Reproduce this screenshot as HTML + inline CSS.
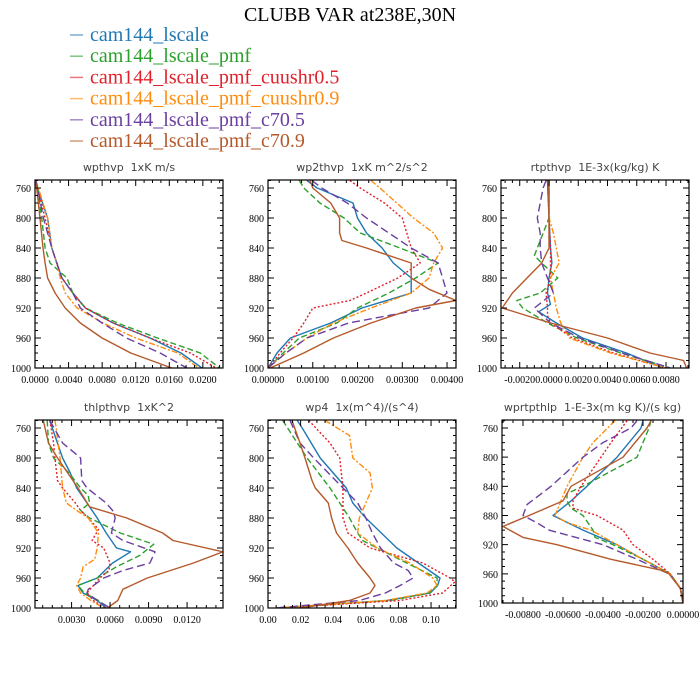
<!DOCTYPE html>
<html><head><meta charset="utf-8">
<style>
html,body{margin:0;padding:0;background:#fff;}
svg{display:block;}
.pt{font-family:"DejaVu Sans",sans-serif;font-size:11px;fill:#444;}
.tl{font-family:"Liberation Serif",serif;font-size:10px;fill:#000;}
.lg{font-family:"Liberation Serif",serif;font-size:20px;}
</style></head>
<body>
<svg id="chart" width="700" height="700" viewBox="0 0 700 700" xmlns="http://www.w3.org/2000/svg">
<text x="350" y="21" text-anchor="middle" font-family="Liberation Serif, serif" font-size="20">CLUBB VAR at238E,30N</text>
<g id="legend"></g>
<g id="panels"></g>
</svg>
<script>
// Series names and colours
const seriesNames = ["cam144_lscale","cam144_lscale_pmf","cam144_lscale_pmf_cuushr0.5","cam144_lscale_pmf_cuushr0.9","cam144_lscale_pmf_c70.5","cam144_lscale_pmf_c70.9"];
// Panel 1: wpthvp  ([pressure, value])
const p1_s0 = [[750,0.0001],[760,0.0003],[800,0.0015],[840,0.0020],[860,0.0026],[880,0.0032],[900,0.0045],[920,0.0060],[940,0.0093],[960,0.0137],[980,0.0174],[1000,0.0199]];
const p1_s1 = [[750,0.0001],[760,0.0003],[800,0.0008],[840,0.0012],[860,0.0018],[880,0.0038],[900,0.0045],[920,0.0060],[940,0.0098],[960,0.0146],[980,0.0197],[1000,0.0220]];
const p1_s2 = [[750,0.0001],[760,0.0003],[800,0.0012],[840,0.0020],[860,0.0026],[880,0.0032],[900,0.0045],[920,0.0060],[940,0.0093],[960,0.0137],[980,0.0185],[1000,0.0216]];
const p1_s3 = [[750,0.0001],[760,0.0004],[800,0.0015],[840,0.0020],[860,0.0026],[880,0.0030],[900,0.0036],[920,0.0050],[940,0.0081],[960,0.0120],[980,0.0170],[1000,0.0195]];
const p1_s4 = [[750,0.0001],[760,0.0003],[800,0.0010],[840,0.0020],[860,0.0026],[880,0.0032],[900,0.0045],[920,0.0054],[940,0.0080],[960,0.0109],[980,0.0149],[1000,0.0181]];
const p1_s5 = [[750,0.0000],[760,0.0002],[800,0.0006],[840,0.00095],[860,0.0012],[880,0.0015],[900,0.0024],[920,0.0036],[940,0.0054],[960,0.0080],[980,0.0114],[1000,0.0163]];
// Panel 2: wp2thvp
const p2_s0 = [[750,0.00087],[760,0.0011],[780,0.0019],[800,0.0020],[820,0.0022],[840,0.00255],[860,0.0028],[880,0.0032],[900,0.0032],[920,0.0021],[940,0.0014],[960,0.0005],[980,0.0002],[1000,0]];
const p2_s1 = [[750,0.0007],[760,0.0008],[780,0.00116],[800,0.0017],[820,0.00206],[840,0.00295],[860,0.0038],[880,0.0033],[900,0.0027],[920,0.0020],[940,0.00154],[960,0.0007],[980,0.00034],[1000,0]];
const p2_s2 = [[750,0.00183],[760,0.00206],[780,0.0026],[800,0.0030],[820,0.0031],[840,0.0032],[860,0.0034],[880,0.0029],[900,0.0022],[910,0.00183],[920,0.0010],[940,0.0008],[960,0.00056],[980,0.00027],[1000,0]];
const p2_s3 = [[750,0.0023],[760,0.0025],[800,0.00325],[820,0.0037],[840,0.0039],[860,0.0037],[880,0.0036],[900,0.0032],[920,0.0023],[940,0.00146],[960,0.00087],[980,0.0004],[1000,0]];
const p2_s4 = [[750,0.00098],[760,0.0012],[780,0.00177],[800,0.0022],[840,0.0032],[860,0.0038],[880,0.0039],[900,0.0040],[920,0.0036],[930,0.0027],[940,0.0018],[960,0.00087],[980,0.0004],[1000,0]];
const p2_s5 = [[750,0.00094],[760,0.0010],[780,0.0014],[800,0.0016],[820,0.0016],[830,0.00165],[840,0.0022],[860,0.0032],[880,0.0032],[895,0.0036],[910,0.0042],[920,0.0033],[940,0.0023],[960,0.00146],[980,0.0008],[1000,0.00005]];
// Panel 3: rtpthvp
const p3_s0 = [[750,-0.0001],[800,0],[840,0.0001],[860,0.0002],[880,0],[900,-0.0001],[915,0.0001],[925,-0.0007],[940,0.0005],[960,0.0023],[980,0.0053],[1000,0.0078]];
const p3_s1 = [[750,0],[800,0],[840,-0.0008],[850,-0.0010],[860,-0.0005],[880,0.0006],[900,-0.0006],[910,-0.0022],[920,-0.0018],[940,-0.0001],[960,0.0019],[980,0.0049],[1000,0.0083]];
const p3_s2 = [[750,-0.0001],[800,0],[840,0.0001],[880,0.0001],[900,-0.0002],[920,-0.0001],[930,-0.0001],[940,0.0001],[960,0.0016],[980,0.0044],[1000,0.0080]];
const p3_s3 = [[750,0],[800,0],[820,0.0003],[840,0.0005],[860,0.0007],[880,0.0001],[900,0.0003],[920,0.0005],[940,0.0008],[960,0.0014],[980,0.0042],[1000,0.0080]];
const p3_s4 = [[750,-0.0002],[760,-0.0004],[780,-0.0006],[800,-0.0008],[820,-0.0006],[840,-0.0006],[860,-0.0005],[880,-0.0001],[900,0.0003],[920,-0.0010],[940,0.0001],[960,0.0021],[980,0.0050],[1000,0.0083]];
const p3_s5 = [[750,0],[800,0],[840,0],[860,-0.0005],[880,-0.0015],[900,-0.0025],[920,-0.0032],[940,0.0001],[960,0.0040],[980,0.0069],[990,0.0092],[1000,0.0094]];
// Panel 4: thlpthvp
const p4_s0 = [[750,0.0013],[760,0.0015],[800,0.0023],[820,0.0029],[840,0.0034],[860,0.0042],[880,0.0050],[900,0.0057],[920,0.0065],[925,0.0076],[940,0.0062],[960,0.0050],[970,0.0035],[980,0.0039],[990,0.0050],[1000,0.0057]];
const p4_s1 = [[750,0.0011],[780,0.0012],[800,0.0016],[820,0.0028],[840,0.0037],[850,0.0043],[860,0.0044],[870,0.0037],[880,0.0044],[900,0.0068],[915,0.0094],[930,0.0083],[945,0.0065],[960,0.0050],[970,0.0035],[980,0.0040],[990,0.0051],[1000,0.0059]];
const p4_s2 = [[750,0.0013],[780,0.0016],[800,0.0017],[830,0.0019],[840,0.0023],[860,0.0033],[870,0.0037],[880,0.0043],[895,0.0051],[910,0.0046],[920,0.0055],[940,0.0060],[950,0.0059],[960,0.0052],[980,0.0042],[990,0.0047],[1000,0.0056]];
const p4_s3 = [[750,0.0017],[760,0.0018],[800,0.0021],[840,0.0023],[860,0.0026],[870,0.0034],[880,0.0043],[900,0.0051],[920,0.0050],[935,0.0048],[945,0.0039],[960,0.0037],[970,0.0034],[980,0.0037],[990,0.0045],[1000,0.0055]];
const p4_s4 = [[750,0.0013],[780,0.0023],[800,0.0037],[830,0.0038],[840,0.0042],[860,0.0057],[870,0.0062],[880,0.0064],[900,0.0061],[910,0.0070],[925,0.0095],[940,0.0091],[950,0.0070],[960,0.0055],[975,0.0043],[980,0.0042],[990,0.0050],[1000,0.0060]];
const p4_s5 = [[750,0.0008],[780,0.0012],[800,0.0019],[840,0.0035],[865,0.0044],[880,0.0073],[900,0.0101],[910,0.0109],[925,0.0148],[940,0.0125],[960,0.0089],[975,0.0070],[990,0.0066],[1000,0.0058]];
// Panel 5: wp4
const p5_s0 = [[750,0.018],[760,0.021],[800,0.032],[840,0.048],[860,0.052],[880,0.060],[920,0.079],[960,0.1055],[970,0.104],[980,0.0995],[990,0.073],[1000,0.005]];
const p5_s1 = [[750,0.009],[800,0.024],[840,0.038],[880,0.050],[900,0.055],[910,0.058],[920,0.067],[940,0.085],[960,0.1037],[970,0.1037],[980,0.099],[990,0.075],[1000,0.005]];
const p5_s2 = [[750,0.025],[780,0.038],[800,0.044],[840,0.046],[880,0.046],[900,0.049],[920,0.0626],[940,0.095],[960,0.1117],[965,0.1147],[980,0.107],[990,0.081],[1000,0.005]];
const p5_s3 = [[750,0.035],[770,0.050],[800,0.052],[820,0.0626],[840,0.064],[860,0.060],[880,0.056],[900,0.055],[920,0.067],[940,0.087],[960,0.101],[970,0.1037],[980,0.0975],[990,0.072],[1000,0.005]];
const p5_s4 = [[750,0.0135],[780,0.0196],[800,0.028],[840,0.046],[860,0.055],[880,0.060],[900,0.064],[920,0.069],[940,0.077],[950,0.086],[960,0.089],[970,0.081],[980,0.072],[990,0.056],[1000,0.005]];
const p5_s5 = [[750,0.0147],[780,0.0196],[800,0.0227],[830,0.027],[840,0.029],[860,0.037],[880,0.039],[900,0.042],[920,0.049],[940,0.055],[960,0.0626],[970,0.0656],[980,0.0626],[990,0.050],[1000,0.020]];
// Panel 6: wprtpthlp
const p6_s0 = [[750,-0.0020],[760,-0.0021],[800,-0.0033],[840,-0.0048],[860,-0.0056],[880,-0.0065],[900,-0.0050],[920,-0.0033],[940,-0.0020],[960,-0.00064],[980,-0.00013],[1000,0]];
const p6_s1 = [[750,-0.0016],[760,-0.0017],[800,-0.0023],[840,-0.0050],[850,-0.0058],[860,-0.0058],[870,-0.0056],[880,-0.0050],[900,-0.0045],[910,-0.0044],[920,-0.0035],[940,-0.0020],[960,-0.00064],[980,-0.00013],[1000,0]];
const p6_s2 = [[750,-0.0028],[780,-0.0036],[800,-0.0041],[840,-0.0051],[860,-0.0055],[870,-0.0055],[880,-0.0043],[900,-0.0030],[920,-0.0025],[940,-0.0015],[960,-0.00064],[980,-0.00013],[1000,0]];
const p6_s3 = [[750,-0.0034],[780,-0.0045],[800,-0.0050],[840,-0.0058],[860,-0.0061],[880,-0.0064],[890,-0.0058],[900,-0.0046],[920,-0.0033],[940,-0.0020],[960,-0.00064],[980,-0.00013],[1000,0]];
const p6_s4 = [[750,-0.0023],[760,-0.0026],[780,-0.0040],[800,-0.0050],[840,-0.0066],[865,-0.0078],[880,-0.0080],[890,-0.0073],[900,-0.0067],[920,-0.0040],[940,-0.0023],[960,-0.0007],[980,-0.00013],[1000,0]];
const p6_s5 = [[750,-0.0016],[760,-0.0018],[800,-0.0030],[840,-0.0056],[860,-0.0060],[880,-0.0077],[895,-0.0090],[910,-0.0080],[920,-0.0063],[940,-0.0036],[955,-0.0011],[960,-0.0007],[980,-0.00013],[1000,0]];
// Tick labels
const p1_ticks = ["0.0000","0.0040","0.0080","0.0120","0.0160","0.0200"];
const p2_ticks = ["0.00000","0.00100","0.00200","0.00300","0.00400"];
const p3_ticks = ["-0.0020","0.0000","0.0020","0.0040","0.0060","0.0080"];
const p4_ticks = ["0.0030","0.0060","0.0090","0.0120"];
const p5_ticks = ["0.00","0.02","0.04","0.06","0.08","0.10"];
const p6_ticks = ["-0.00800","-0.00600","-0.00400","-0.00200","0.00000"];
const yTicks = [760,800,840,880,920,960,1000];

const colors = ["#1f77b4","#2ca02c","#e0202a","#ff8c0e","#6a3fa0","#b5592a"];
const dashes = ["", "6,3", "2,2", "6,2,2,2", "8,4", ""];
const NS = "http://www.w3.org/2000/svg";
const svg = document.getElementById('chart');

// legend
const lg = document.getElementById('legend');
seriesNames.forEach((n,i)=>{
  const y = 35 + i*21.2;
  const l = document.createElementNS(NS,'line');
  
  
  l.setAttribute('x1',70);l.setAttribute('x2',83);l.setAttribute('y1',y);l.setAttribute('y2',y);
  l.setAttribute('stroke',colors[i]);l.setAttribute('stroke-width',1.5);l.setAttribute('opacity',0.6);
  lg.appendChild(l);
  const t = document.createElementNS(NS,'text');
  
  
  t.setAttribute('x',90);t.setAttribute('y',y+6);t.setAttribute('class','lg');t.setAttribute('fill',colors[i]);
  t.textContent = n;
  lg.appendChild(t);
});

const panels = [
 {name:'wpthvp',title:'wpthvp  1xK m/s',x0:35,x1:223,y0:180,y1:368,p760:188,xmin:0,xmax:0.0224,ticks:p1_ticks,minor:0.001,series:[p1_s0,p1_s1,p1_s2,p1_s3,p1_s4,p1_s5]},
 {name:'wp2thvp',title:'wp2thvp  1xK m^2/s^2',x0:268,x1:456,y0:180,y1:368,p760:188,xmin:0,xmax:0.0042,ticks:p2_ticks,minor:0.00025,series:[p2_s0,p2_s1,p2_s2,p2_s3,p2_s4,p2_s5]},
 {name:'rtpthvp',title:'rtpthvp  1E-3x(kg/kg) K',x0:501,x1:689,y0:180,y1:368,p760:188,xmin:-0.00328,xmax:0.00957,ticks:p3_ticks,minor:0.0005,series:[p3_s0,p3_s1,p3_s2,p3_s3,p3_s4,p3_s5]},
 {name:'thlpthvp',title:'thlpthvp  1xK^2',x0:35,x1:223,y0:420,y1:608,p760:428,xmin:0.00015,xmax:0.0148,ticks:p4_ticks,minor:0.00075,series:[p4_s0,p4_s1,p4_s2,p4_s3,p4_s4,p4_s5]},
 {name:'wp4',title:'wp4  1x(m^4)/(s^4)',x0:268,x1:456,y0:420,y1:608,p760:428,xmin:0,xmax:0.1153,ticks:p5_ticks,minor:0.005,series:[p5_s0,p5_s1,p5_s2,p5_s3,p5_s4,p5_s5]},
 {name:'wprtpthlp',title:'wprtpthlp  1-E-3x(m kg K)/(s kg)',x0:502,x1:683,y0:420,y1:603,p760:428,xmin:-0.00905,xmax:0,ticks:p6_ticks,minor:0.0005,series:[p6_s0,p6_s1,p6_s2,p6_s3,p6_s4,p6_s5]}
];

function mk(tag, parent){const e=document.createElementNS(NS,tag);parent.appendChild(e);return e;}
const root = document.getElementById('panels');
panels.forEach((P,pi)=>{
  const g = mk('g',root);
  
  
  const ky = (P.y1-P.p760)/240;
  const Y = p => P.p760 + (p-760)*ky;
  const X = v => P.x0 + (v-P.xmin)/(P.xmax-P.xmin)*(P.x1-P.x0);
  const cp = mk('clipPath',g); cp.setAttribute('id','clip'+pi);
  const cr = mk('rect',cp); cr.setAttribute('x',P.x0);cr.setAttribute('y',P.y0);cr.setAttribute('width',P.x1-P.x0);cr.setAttribute('height',P.y1-P.y0);
  const t = mk('text',g);
  
  
  t.setAttribute('class','pt');t.setAttribute('x',(P.x0+P.x1)/2);t.setAttribute('y',P.y0-9);t.setAttribute('text-anchor','middle');
  t.setAttribute('xml:space','preserve'); t.style.whiteSpace='pre';
  t.textContent = P.title;
  const sg = mk('g',g); sg.setAttribute('clip-path','url(#clip'+pi+')');
  P.series.forEach((s,si)=>{
    const pl = mk('polyline',sg);
    
    
    pl.setAttribute('points', s.map(d=>X(d[1]).toFixed(1)+','+Y(d[0]).toFixed(1)).join(' '));
    pl.setAttribute('fill','none');pl.setAttribute('stroke',colors[si]);pl.setAttribute('stroke-width',1.4);
    pl.setAttribute('stroke-linejoin','round');
    if(dashes[si]) pl.setAttribute('stroke-dasharray',dashes[si]);
  });
  const b = mk('rect',g);
  
  
  b.setAttribute('x',P.x0);b.setAttribute('y',P.y0);b.setAttribute('width',P.x1-P.x0);b.setAttribute('height',P.y1-P.y0);
  b.setAttribute('fill','none');b.setAttribute('stroke','#000');b.setAttribute('stroke-width',1.2);
  let d='';
  for(let p=750;p<=1000;p+=10){
    const y=Y(p); if(y<P.y0-0.5) continue;
    const L = (p%40===0 && p>=760)?6:3;
    d+=`M${P.x0},${y}h${L}M${P.x1},${y}h${-L}`;
  }
  yTicks.forEach(p=>{
    const tl = mk('text',g);
    
    
    tl.setAttribute('class','tl');tl.setAttribute('x',P.x0-4);tl.setAttribute('y',Y(p)+4);tl.setAttribute('text-anchor','end');
    tl.textContent=p;
  });
  const start = Math.ceil(P.xmin/P.minor-1e-6);
  for(let k=start; k*P.minor<=P.xmax+1e-12; k++){
    const v=k*P.minor, x=X(v);
    const isMaj = P.ticks.some(s=>Math.abs(parseFloat(s)-v)<P.minor*0.1);
    const L=isMaj?6:3;
    d+=`M${x},${P.y1}v${-L}M${x},${P.y0}v${L}`;
  }
  P.ticks.forEach(s=>{
    const tl = mk('text',g);
    
    
    tl.setAttribute('class','tl');tl.setAttribute('x',X(parseFloat(s)));tl.setAttribute('y',P.y1+15);tl.setAttribute('text-anchor','middle');
    tl.textContent=s;
  });
  const tp = mk('path',g);
  
  
  tp.setAttribute('d',d);tp.setAttribute('stroke','#000');tp.setAttribute('stroke-width',1);
});
</script>
</body></html>
